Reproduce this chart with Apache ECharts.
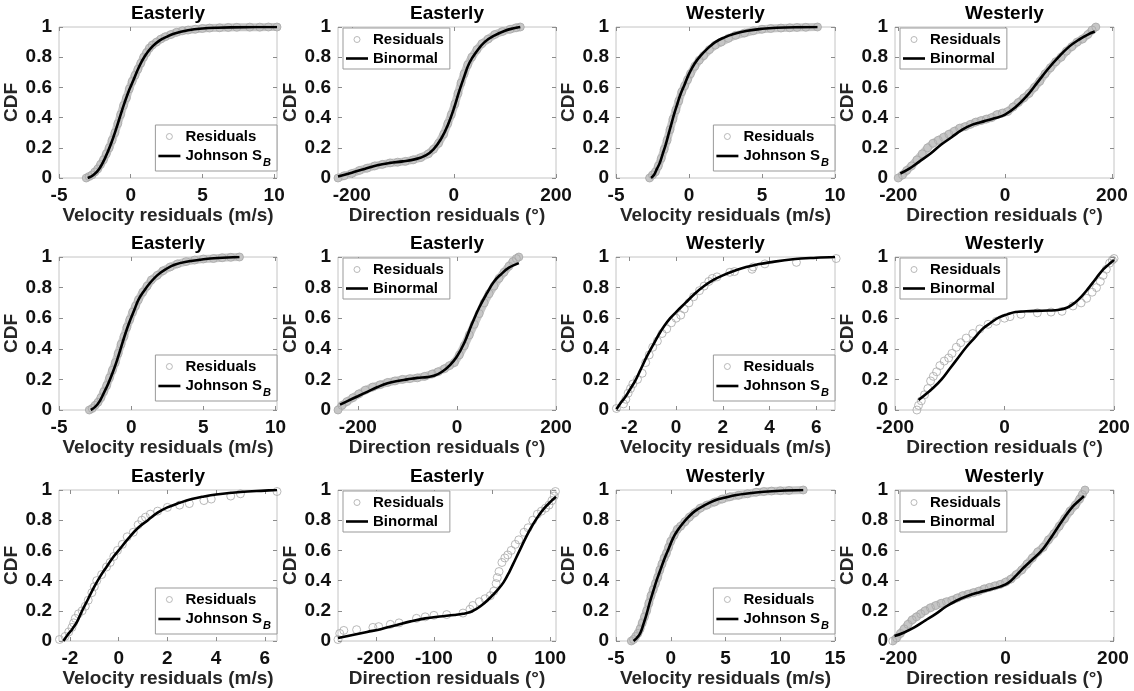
<!DOCTYPE html>
<html><head><meta charset="utf-8">
<script src="https://cdn.jsdelivr.net/npm/echarts@6/dist/echarts.min.js"></script>
<style>html,body{margin:0;padding:0;background:#fff}#c{width:1134px;height:691px}</style>
</head><body><div id="c"></div>
<script>
// ---------- panel meta (row-major, 3 rows x 4 cols) ----------
const panelTitles = ['Easterly','Easterly','Westerly','Westerly','Easterly','Easterly','Westerly','Westerly','Easterly','Easterly','Westerly','Westerly'];
const xNames = ['Velocity residuals (m/s)','Direction residuals (°)','Velocity residuals (m/s)','Direction residuals (°)'];
const fitNames = ['Johnson SB','Binormal','Johnson SB','Binormal'];
const xMins = [-5,-227,-5,-206, -5,-240,-2.57,-200, -2.45,-265,-5,-206];
const xMaxs = [10.2,200,10,204, 10.1,200,6.8,200, 6.5,110,15,202];
const xTicks = [
  [-5,0,5,10],[-200,0,200],[-5,0,5,10],[-200,0,200],
  [-5,0,5,10],[-200,0,200],[-2,0,2,4,6],[-200,0,200],
  [-2,0,2,4,6],[-200,-100,0,100],[-5,0,5,10,15],[-200,0,200]
];
const yTickLabels = [0,0.2,0.4,0.6,0.8,1];

// ---------- residuals (x, CDF) ----------
const residR1C1 = [[-3.1,0],[-2.9,0.01],[-2.7,0.02],[-2.5,0.04],[-2.3,0.06],[-2.1,0.09],[-1.9,0.12],[-1.7,0.16],[-1.5,0.2],[-1.3,0.25],[-1.1,0.3],[-0.9,0.36],[-0.7,0.42],[-0.5,0.48],[-0.3,0.53],[-0.1,0.59],[0.1,0.64],[0.3,0.68],[0.5,0.72],[0.7,0.76],[0.9,0.8],[1.1,0.83],[1.3,0.86],[1.5,0.88],[1.8,0.9],[2.1,0.92],[2.4,0.935],[2.8,0.95],[3.2,0.965],[3.6,0.975],[4.0,0.98],[4.5,0.985],[5.0,0.99],[5.5,0.993],[6.2,0.995],[6.8,0.997],[7.4,0.998],[8.3,0.999],[9.0,0.999],[9.6,1],[10.2,1]];
const residR1C2 = [[-227,0],[-215,0.015],[-200,0.03],[-185,0.05],[-170,0.065],[-155,0.08],[-140,0.09],[-125,0.1],[-110,0.105],[-95,0.11],[-80,0.12],[-65,0.135],[-50,0.16],[-40,0.19],[-30,0.23],[-20,0.29],[-12,0.36],[-5,0.42],[2,0.49],[8,0.56],[14,0.63],[20,0.69],[27,0.75],[35,0.8],[45,0.85],[55,0.89],[67,0.92],[80,0.95],[95,0.97],[110,0.985],[122,0.995],[130,1.0]];
const residR1C3 = [[-2.7,0],[-2.5,0.02],[-2.3,0.04],[-2.1,0.08],[-1.9,0.13],[-1.7,0.19],[-1.5,0.25],[-1.3,0.32],[-1.1,0.39],[-0.9,0.45],[-0.7,0.51],[-0.5,0.57],[-0.3,0.61],[-0.1,0.65],[0.1,0.69],[0.4,0.74],[0.7,0.78],[1.0,0.81],[1.4,0.85],[1.8,0.88],[2.2,0.9],[2.7,0.925],[3.2,0.945],[3.8,0.96],[4.4,0.975],[5.0,0.985],[5.6,0.99],[6.3,0.993],[6.9,0.995],[7.4,0.997],[8.0,0.998],[8.8,1.0]];
const residR1C4 = [[-200,0],[-192,0.02],[-184,0.05],[-175,0.08],[-165,0.12],[-155,0.16],[-145,0.2],[-135,0.23],[-125,0.25],[-115,0.27],[-105,0.29],[-95,0.31],[-85,0.33],[-75,0.34],[-65,0.355],[-55,0.37],[-45,0.38],[-35,0.39],[-25,0.4],[-15,0.42],[-5,0.43],[5,0.44],[15,0.47],[25,0.5],[35,0.53],[45,0.56],[55,0.6],[65,0.64],[75,0.69],[85,0.73],[95,0.77],[105,0.8],[115,0.84],[125,0.87],[135,0.9],[145,0.92],[155,0.95],[163,0.98],[170,1.0]];
const residR2C1 = [[-2.9,0],[-2.7,0.01],[-2.5,0.03],[-2.3,0.05],[-2.1,0.08],[-1.9,0.12],[-1.7,0.16],[-1.5,0.21],[-1.3,0.26],[-1.1,0.31],[-0.9,0.37],[-0.7,0.43],[-0.5,0.48],[-0.3,0.54],[-0.1,0.59],[0.1,0.64],[0.3,0.68],[0.5,0.72],[0.8,0.77],[1.1,0.81],[1.4,0.85],[1.8,0.88],[2.2,0.91],[2.7,0.935],[3.2,0.955],[3.8,0.97],[4.4,0.98],[5.0,0.987],[5.7,0.99],[6.3,0.995],[6.9,0.998],[7.5,1.0]];
const residR2C2 = [[-240,0],[-232,0.03],[-222,0.055],[-210,0.08],[-198,0.105],[-185,0.13],[-170,0.15],[-155,0.165],[-140,0.18],[-125,0.19],[-110,0.2],[-95,0.205],[-80,0.21],[-65,0.22],[-50,0.235],[-38,0.25],[-25,0.27],[-15,0.29],[-5,0.31],[5,0.36],[15,0.42],[25,0.49],[35,0.56],[45,0.63],[55,0.7],[65,0.76],[75,0.81],[85,0.86],[95,0.9],[105,0.94],[113,0.97],[120,0.99],[125,1.0]];
const residR2C3 = [[-2.55,0.01],[-2.25,0.04],[-2.15,0.07],[-2.05,0.11],[-1.95,0.14],[-1.85,0.17],[-1.65,0.2],[-1.45,0.24],[-1.3,0.31],[-1.15,0.36],[-1.0,0.41],[-0.8,0.45],[-0.6,0.5],[-0.4,0.53],[-0.2,0.57],[0.0,0.6],[0.2,0.62],[0.35,0.66],[0.55,0.7],[0.75,0.74],[1.0,0.78],[1.2,0.81],[1.4,0.84],[1.55,0.86],[1.75,0.87],[2.3,0.9],[2.5,0.905],[3.25,0.92],[3.3,0.935],[3.8,0.955],[5.15,0.965],[6.85,0.99]];
const residR2C4 = [[-160,0.0],[-157,0.03],[-152,0.06],[-146,0.1],[-140,0.14],[-135,0.19],[-130,0.22],[-124,0.25],[-118,0.29],[-110,0.32],[-102,0.34],[-96,0.37],[-88,0.41],[-80,0.44],[-70,0.47],[-58,0.5],[-45,0.53],[-30,0.56],[-15,0.58],[0,0.6],[10,0.61],[30,0.625],[60,0.635],[85,0.64],[105,0.645],[125,0.68],[140,0.7],[150,0.73],[160,0.77],[168,0.8],[175,0.84],[180,0.88],[186,0.92],[192,0.96],[197,0.98],[200,0.99]];
const residR3C1 = [[-2.43,0.01],[-2.2,0.03],[-2.05,0.06],[-1.92,0.09],[-1.85,0.12],[-1.78,0.15],[-1.65,0.18],[-1.5,0.2],[-1.37,0.23],[-1.25,0.27],[-1.1,0.32],[-1.0,0.36],[-0.9,0.4],[-0.7,0.44],[-0.5,0.49],[-0.35,0.52],[-0.2,0.56],[-0.05,0.6],[0.15,0.64],[0.35,0.69],[0.6,0.72],[0.8,0.77],[0.95,0.8],[1.1,0.82],[1.3,0.84],[1.6,0.86],[2.0,0.885],[2.5,0.9],[2.9,0.91],[3.5,0.93],[3.8,0.94],[4.6,0.96],[5.0,0.975],[6.5,0.99]];
const residR3C2 = [[-265,0.01],[-262,0.05],[-255,0.07],[-233,0.075],[-205,0.09],[-195,0.095],[-175,0.11],[-160,0.12],[-130,0.15],[-115,0.16],[-100,0.17],[-78,0.175],[-50,0.185],[-38,0.21],[-33,0.235],[-22,0.26],[-12,0.28],[-3,0.3],[3,0.33],[7,0.38],[9,0.42],[12,0.46],[17,0.52],[22,0.55],[27,0.57],[33,0.6],[40,0.64],[46,0.67],[55,0.72],[62,0.75],[70,0.8],[78,0.84],[85,0.86],[92,0.88],[98,0.9],[103,0.93],[107,0.96],[109,0.99]];
const residR3C3 = [[-3.6,0],[-3.4,0.01],[-3.2,0.03],[-3.0,0.05],[-2.8,0.08],[-2.6,0.12],[-2.4,0.16],[-2.2,0.2],[-2.0,0.25],[-1.8,0.3],[-1.6,0.34],[-1.4,0.38],[-1.2,0.42],[-1.0,0.47],[-0.8,0.51],[-0.6,0.55],[-0.4,0.58],[-0.2,0.62],[0,0.66],[0.3,0.7],[0.6,0.74],[0.9,0.76],[1.3,0.79],[1.7,0.82],[2.2,0.85],[2.7,0.88],[3.3,0.9],[4,0.92],[4.7,0.94],[5.4,0.955],[6.2,0.965],[7,0.975],[7.8,0.985],[8.5,0.99],[9.2,0.993],[10,0.995],[10.8,0.997],[12.1,1.0]];
const residR3C4 = [[-210,0],[-203,0.02],[-196,0.05],[-189,0.08],[-182,0.11],[-174,0.14],[-166,0.16],[-158,0.18],[-150,0.2],[-140,0.22],[-130,0.235],[-120,0.25],[-110,0.26],[-100,0.27],[-90,0.285],[-80,0.3],[-70,0.31],[-60,0.32],[-50,0.33],[-40,0.345],[-30,0.355],[-20,0.365],[-10,0.375],[0,0.39],[10,0.41],[20,0.44],[30,0.47],[40,0.51],[50,0.55],[60,0.59],[70,0.62],[80,0.67],[90,0.71],[100,0.76],[110,0.81],[120,0.86],[130,0.9],[138,0.94],[143,0.97],[148,1.0]];

// ---------- fitted CDFs (x, CDF) ----------
const fitR1C1 = [[-3.0,0],[-2.6,0.02],[-2.2,0.06],[-1.8,0.13],[-1.4,0.22],[-1.0,0.33],[-0.6,0.45],[-0.2,0.56],[0.2,0.65],[0.6,0.74],[1.0,0.81],[1.5,0.87],[2.0,0.91],[2.5,0.935],[3,0.955],[4,0.978],[5,0.99],[6,0.995],[8,0.999],[10.2,1.0]];
const fitR1C2 = [[-227,0.01],[-200,0.035],[-175,0.06],[-150,0.085],[-125,0.1],[-100,0.11],[-75,0.125],[-55,0.15],[-40,0.19],[-25,0.26],[-12,0.35],[0,0.46],[10,0.57],[20,0.67],[30,0.76],[45,0.84],[60,0.9],[80,0.945],[100,0.975],[115,0.99],[130,1.0]];
const fitR1C3 = [[-2.6,0],[-2.4,0.02],[-2.2,0.06],[-2.0,0.1],[-1.8,0.16],[-1.6,0.22],[-1.4,0.29],[-1.2,0.36],[-1.0,0.43],[-0.8,0.49],[-0.6,0.55],[-0.3,0.62],[0,0.69],[0.4,0.76],[0.8,0.81],[1.3,0.86],[1.8,0.9],[2.4,0.93],[3,0.952],[4,0.975],[5,0.988],[6,0.995],[7.5,0.999],[8.8,1.0]];
const fitR1C4 = [[-196,0.03],[-180,0.06],[-160,0.11],[-140,0.16],[-120,0.22],[-100,0.27],[-80,0.32],[-60,0.355],[-40,0.375],[-20,0.395],[0,0.42],[20,0.47],[40,0.54],[60,0.63],[80,0.72],[100,0.8],[120,0.87],[140,0.92],[155,0.95],[168,0.97]];
const fitR2C1 = [[-2.8,0],[-2.5,0.02],[-2.2,0.055],[-1.9,0.11],[-1.6,0.17],[-1.3,0.24],[-1.0,0.32],[-0.7,0.41],[-0.4,0.5],[-0.1,0.58],[0.2,0.65],[0.5,0.72],[0.9,0.78],[1.3,0.83],[1.8,0.88],[2.4,0.92],[3,0.95],[4,0.972],[5,0.985],[6,0.993],[7.5,1.0]];
const fitR2C2 = [[-236,0.035],[-220,0.06],[-200,0.09],[-180,0.12],[-160,0.15],[-140,0.175],[-120,0.19],[-100,0.2],[-80,0.21],[-60,0.215],[-45,0.225],[-30,0.25],[-15,0.29],[0,0.35],[15,0.44],[30,0.56],[45,0.67],[60,0.76],[75,0.84],[90,0.89],[105,0.93],[125,0.96]];
const fitR2C3 = [[-2.55,0.005],[-2.35,0.05],[-2.15,0.09],[-1.95,0.14],[-1.75,0.19],[-1.5,0.27],[-1.25,0.35],[-1.0,0.42],[-0.75,0.49],[-0.5,0.55],[-0.25,0.6],[0,0.64],[0.4,0.7],[0.8,0.76],[1.2,0.81],[1.6,0.85],[2.0,0.88],[2.5,0.91],[3,0.935],[3.5,0.952],[4,0.965],[5,0.985],[6,0.995],[6.8,1.0]];
const fitR2C4 = [[-157,0.065],[-145,0.1],[-130,0.145],[-115,0.2],[-100,0.27],[-85,0.34],[-70,0.41],[-55,0.47],[-40,0.53],[-25,0.57],[-10,0.605],[5,0.625],[20,0.64],[40,0.645],[60,0.648],[80,0.65],[100,0.655],[115,0.67],[128,0.7],[140,0.74],[152,0.79],[165,0.85],[178,0.91],[190,0.95],[200,0.98]];
const fitR3C1 = [[-2.27,0],[-2.1,0.04],[-1.9,0.08],[-1.7,0.13],[-1.5,0.2],[-1.25,0.28],[-1.0,0.36],[-0.75,0.43],[-0.5,0.49],[-0.25,0.55],[0,0.6],[0.4,0.68],[0.8,0.75],[1.2,0.8],[1.6,0.85],[2.0,0.885],[2.5,0.915],[3,0.94],[3.5,0.957],[4,0.97],[5,0.987],[6,0.996],[6.5,1.0]];
const fitR3C2 = [[-265,0.02],[-240,0.04],[-215,0.06],[-190,0.08],[-165,0.105],[-140,0.13],[-115,0.15],[-90,0.162],[-65,0.172],[-50,0.18],[-35,0.195],[-20,0.23],[-5,0.28],[10,0.34],[20,0.39],[30,0.46],[40,0.54],[50,0.62],[60,0.7],[70,0.77],[80,0.83],[90,0.88],[100,0.92],[110,0.955]];
const fitR3C3 = [[-3.4,0],[-3.1,0.02],[-2.8,0.05],[-2.5,0.11],[-2.2,0.18],[-1.9,0.26],[-1.6,0.33],[-1.3,0.4],[-1.0,0.46],[-0.6,0.54],[-0.2,0.61],[0.2,0.68],[0.6,0.73],[1.0,0.77],[1.6,0.82],[2.2,0.86],[3,0.895],[4,0.93],[5,0.95],[6,0.967],[7,0.977],[8.5,0.988],[10,0.995],[12.1,1.0]];
const fitR3C4 = [[-207,0.033],[-190,0.055],[-170,0.09],[-150,0.135],[-130,0.18],[-110,0.23],[-90,0.27],[-70,0.3],[-50,0.322],[-30,0.34],[-10,0.36],[5,0.385],[20,0.435],[35,0.49],[50,0.54],[65,0.59],[80,0.66],[95,0.74],[110,0.82],[125,0.89],[137,0.93],[146,0.96]];

const residuals = [residR1C1,residR1C2,residR1C3,residR1C4,residR2C1,residR2C2,residR2C3,residR2C4,residR3C1,residR3C2,residR3C3,residR3C4];
const fits = [fitR1C1,fitR1C2,fitR1C3,fitR1C4,fitR2C1,fitR2C2,fitR2C3,fitR2C4,fitR3C1,fitR3C2,fitR3C3,fitR3C4];

// ---------- layout / style ----------
const colLeft = [59, 338, 616, 895];
const colWidth = [218, 218, 219, 219];
const rowTop = [27, 257, 490];
const rowHeight = [151, 153, 151];
const densePanel = [1,1,1,1, 1,1,0,0, 0,0,1,1];
const FONT = '"Liberation Sans", Arial, Helvetica, sans-serif';
const TICK_COLOR = '#8c8c8c';

const option = {
  backgroundColor: '#fff',
  animation: false,
  textStyle: { fontFamily: FONT },
  title: [], grid: [], xAxis: [], yAxis: [], legend: [], series: []
};

for (let i = 0; i < 12; i++) {
  const r = Math.floor(i / 4), c = i % 4;
  const L = colLeft[c], W = colWidth[c], T = rowTop[r], H = rowHeight[r];
  option.grid.push({ left: L, top: T, width: W, height: H, show: true, borderColor: '#c4c4c4', borderWidth: 1, backgroundColor: 'transparent' });
  option.title.push({ text: panelTitles[i], left: L + W / 2, top: T - 23, padding: 0, textAlign: 'center',
    textStyle: { fontSize: 19, fontWeight: 'bold', color: '#000', fontFamily: FONT } });
  option.xAxis[i] = {
    type: 'value', gridIndex: i, position: 'bottom', min: xMins[i], max: xMaxs[i],
    axisLine: { show: false, onZero: false },
    axisTick: { show: true, inside: true, length: 4, customValues: xTicks[i], lineStyle: { color: TICK_COLOR } },
    axisLabel: { customValues: xTicks[i], margin: 8, fontSize: 19, fontWeight: 'bold', color: '#111', fontFamily: FONT },
    splitLine: { show: false },
    name: xNames[c], nameLocation: 'middle', nameGap: 24,
    nameTextStyle: { fontSize: 19, fontWeight: 'bold', color: '#262626', fontFamily: FONT }
  };
  // mirrored top axis (ticks only)
  option.xAxis[12 + i] = {
    type: 'value', gridIndex: i, position: 'top', min: xMins[i], max: xMaxs[i],
    axisLine: { show: false, onZero: false }, axisLabel: { show: false }, splitLine: { show: false },
    axisTick: { show: true, inside: true, length: 4, customValues: xTicks[i], lineStyle: { color: TICK_COLOR } }
  };
  option.yAxis[i] = {
    type: 'value', gridIndex: i, position: 'left', min: 0, max: 1, interval: 0.2,
    axisLine: { show: false, onZero: false },
    axisTick: { show: true, inside: true, length: 4, lineStyle: { color: TICK_COLOR } },
    axisLabel: { margin: 7, fontSize: 19, fontWeight: 'bold', color: '#111', fontFamily: FONT,
      formatter: v => String(+v.toFixed(1)) },
    splitLine: { show: false },
    name: 'CDF', nameLocation: 'middle', nameGap: 30,
    nameTextStyle: { fontSize: 19, fontWeight: 'bold', color: '#262626', fontFamily: FONT }
  };
  option.yAxis[12 + i] = {
    type: 'value', gridIndex: i, position: 'right', min: 0, max: 1, interval: 0.2,
    axisLine: { show: false, onZero: false }, axisLabel: { show: false }, splitLine: { show: false },
    axisTick: { show: true, inside: true, length: 4, lineStyle: { color: TICK_COLOR } }
  };
  const fitName = fitNames[c];
  if (densePanel[i]) {
    option.series.push({ type: 'line', name: 'band' + i, xAxisIndex: i, yAxisIndex: i, data: residuals[i],
      symbol: 'none', silent: true, z: 1, lineStyle: { width: 8, color: '#c6c6c6', cap: 'round', join: 'round' } });
  }
  option.series.push({ type: 'scatter', name: 'Residuals', xAxisIndex: i, yAxisIndex: i, data: residuals[i],
    symbol: 'circle', symbolSize: 8, clip: false, silent: true, z: 2,
    itemStyle: { color: 'rgba(255,255,255,0)', borderColor: '#a8a8a8', borderWidth: 1 } });
  option.series.push({ type: 'line', name: fitName, xAxisIndex: i, yAxisIndex: i, data: fits[i],
    smooth: 0.4, symbol: 'none', silent: true, z: 3,
    lineStyle: { width: 2.6, color: '#000' }, itemStyle: { color: '#000' } });
  const legend = {
    orient: 'vertical', selectedMode: false,
    data: [
      { name: 'Residuals', icon: 'circle', itemStyle: { color: 'rgba(255,255,255,0)', borderColor: '#a8a8a8', borderWidth: 1 } },
      { name: fitName, icon: 'path://M0,0 H22 V2.6 H0 Z', itemStyle: { color: '#000', borderWidth: 0 } }
    ],
    backgroundColor: '#fff', borderColor: '#999', borderWidth: 1,
    padding: [4, 6, 3, 3], itemGap: 4, itemWidth: 22, itemHeight: 6,
    textStyle: { fontSize: 15, fontWeight: 'bold', color: '#000', fontFamily: FONT,
      rich: {
        n: { fontSize: 15, fontWeight: 'bold', color: '#000', fontFamily: FONT, lineHeight: 16, verticalAlign: 'top' },
        s: { fontSize: 11, fontWeight: 'bold', fontStyle: 'italic', color: '#000', fontFamily: FONT, lineHeight: 11, verticalAlign: 'top', padding: [9, 0, 0, 1] }
      } },
    formatter: name => name === 'Johnson SB' ? '{n|Johnson S}{s|B}' : name
  };
  if (c === 0 || c === 2) {
    legend.right = 1134 - (L + W);
    legend.top = T + 98;
  } else {
    legend.left = L + 5;
    legend.top = T + 1;
  }
  option.legend.push(legend);
}

const chart = echarts.init(document.getElementById('c'), null, { renderer: 'canvas' });
chart.setOption(option);
</script>
</body></html>
